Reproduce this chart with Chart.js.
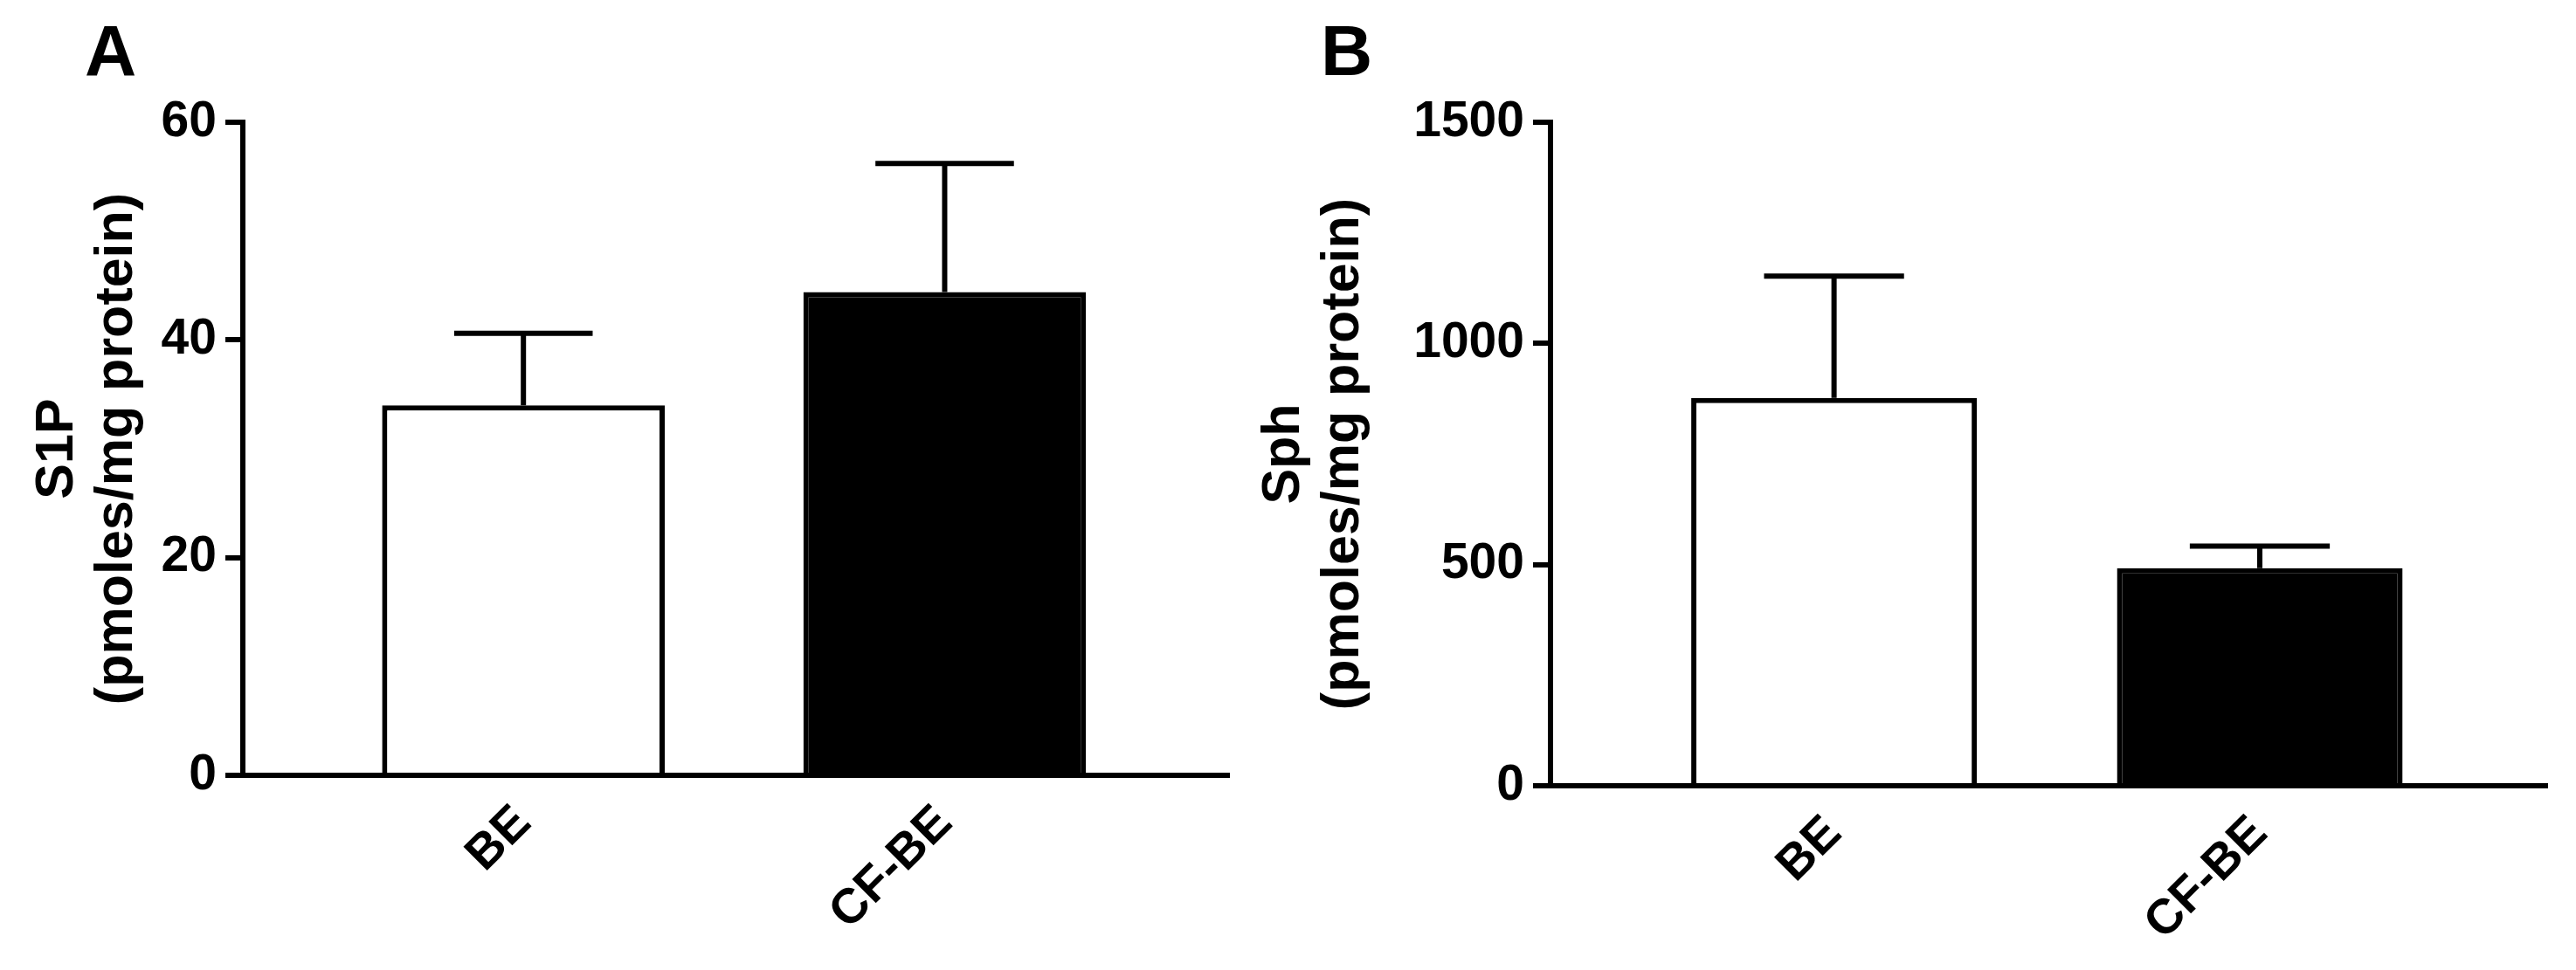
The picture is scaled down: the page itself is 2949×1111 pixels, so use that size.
<!DOCTYPE html>
<html><head><meta charset="utf-8">
<script src="https://cdn.jsdelivr.net/npm/chart.js@4.4.1/dist/chart.umd.min.js"></script>
<style>
html,body{margin:0;padding:0;background:#fff;}
body{width:2949px;height:1111px;position:relative;overflow:hidden;font-family:"Liberation Sans",Arial,sans-serif;}
canvas{position:absolute;top:0;}
#cA{left:0;}
#cB{left:1400px;}
.panel{position:absolute;font-weight:bold;font-size:82px;line-height:1;color:#000;font-family:"Liberation Sans",Arial,sans-serif;}
</style></head><body>
<div class="panel" style="left:97px;top:17px">A</div>
<div class="panel" style="left:1512px;top:17px">B</div>
<canvas id="cA" width="1440" height="1111"></canvas>
<canvas id="cB" width="1549" height="1111"></canvas>
<script>
// ---- data ----
const categories = ['BE', 'CF-BE'];
const s1pMean = [34.0, 44.4];
const s1pSem = [6.6, 11.8];
const sphMean = [877, 492];
const sphSem = [275, 50];
const s1pTicks = [0, 20, 40, 60];
const sphTicks = [0, 500, 1000, 1500];
const s1pTitle = ['S1P', '(pmoles/mg protein)'];
const sphTitle = ['Sph', '(pmoles/mg protein)'];
const barFill = ['#ffffff', '#000000'];

const FONT = '"Liberation Sans", Arial, sans-serif';

const errorBarPlugin = {
  id: 'errorBars',
  afterDatasetsDraw(chart, args, opts) {
    const ctx = chart.ctx;
    const ds = chart.data.datasets[0];
    const meta = chart.getDatasetMeta(0);
    const y = chart.scales.y;
    ctx.save();
    ctx.strokeStyle = opts.color;
    ctx.lineWidth = opts.lineWidth;
    ctx.lineCap = 'butt';
    meta.data.forEach((bar, i) => {
      const v = ds.data[i].y;
      const yBar = y.getPixelForValue(v);
      const yTop = y.getPixelForValue(v + ds.sem[i]);
      const half = bar.width * opts.capFraction / 2;
      ctx.beginPath();
      ctx.moveTo(bar.x, yBar);
      ctx.lineTo(bar.x, yTop);
      ctx.moveTo(bar.x - half, yTop);
      ctx.lineTo(bar.x + half, yTop);
      ctx.stroke();
    });
    ctx.restore();
  }
};

function makeChart(id, means, sems, ticks, title, geo) {
  const canvas = document.getElementById(id);
  return new Chart(canvas, {
    type: 'bar',
    data: {
      datasets: [{
        data: means.map((m, i) => ({ x: i, y: m })),
        sem: sems,
        backgroundColor: barFill,
        borderColor: '#000',
        borderWidth: 6,
        borderSkipped: 'start',
        categoryPercentage: 1,
        barPercentage: 0.671
      }]
    },
    options: {
      responsive: false,
      animation: false,
      devicePixelRatio: 1,
      layout: { padding: { top: geo.top, right: canvas.width - geo.right, left: 0, bottom: 0 } },
      plugins: {
        legend: { display: false },
        tooltip: { enabled: false },
        errorBars: { color: '#000', lineWidth: 6, capFraction: 0.49 }
      },
      scales: {
        x: {
          type: 'linear',
          offset: false,
          min: -0.666,
          max: 1.675,
          afterBuildTicks: (s) => { s.ticks = categories.map((c, i) => ({ value: i })); },
          afterFit: (s) => { s.height = canvas.height - geo.bottom; },
          ticks: {
            callback: (v) => categories[v],
            autoSkip: false,
            minRotation: 45,
            maxRotation: 45,
            padding: 22,
            color: '#000',
            font: { family: FONT, size: 56, weight: 'bold' }
          },
          grid: { display: false, drawTicks: false },
          border: { display: true, width: 6, color: '#000' }
        },
        y: {
          min: ticks[0],
          max: ticks[ticks.length - 1],
          afterBuildTicks: (s) => { s.ticks = ticks.map(v => ({ value: v })); },
          afterFit: (s) => { s.width = geo.left; },
          ticks: {
            callback: (v) => String(v),
            padding: 10,
            color: '#000',
            font: { family: FONT, size: 57, weight: 'bold' }
          },
          grid: {
            display: true,
            drawOnChartArea: false,
            drawTicks: true,
            tickLength: 20,
            tickWidth: 6,
            tickColor: '#000',
            lineWidth: 6,
            color: '#000'
          },
          border: { display: true, width: 6, color: '#000' },
          title: {
            display: true,
            text: title,
            color: '#000',
            font: { family: FONT, size: 61, weight: 'bold', lineHeight: 1.12 },
            padding: { top: geo.titlePad, bottom: 0 }
          }
        }
      }
    },
    plugins: [errorBarPlugin]
  });
}

makeChart('cA', s1pMean, s1pSem, s1pTicks, s1pTitle, { left: 278, right: 1407, top: 140, bottom: 888, titlePad: 32 });
makeChart('cB', sphMean, sphSem, sphTicks, sphTitle, { left: 375, right: 1516, top: 140, bottom: 900, titlePad: 36 });
</script>
</body></html>
